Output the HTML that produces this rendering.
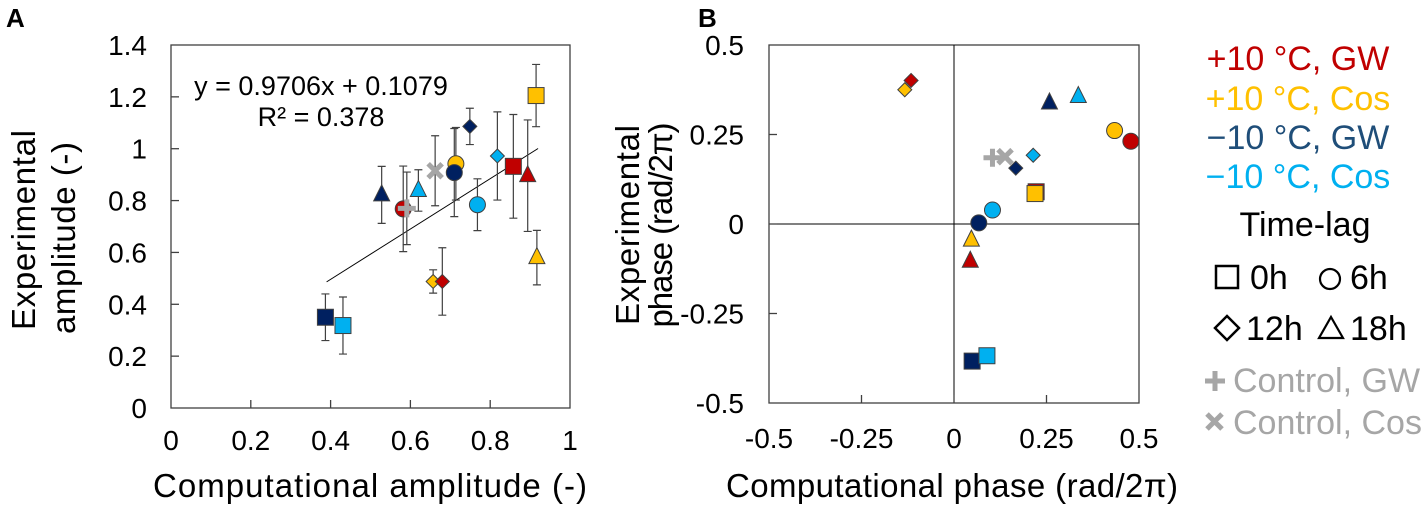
<!DOCTYPE html>
<html><head><meta charset="utf-8"><style>
html,body{margin:0;padding:0;background:#fff;}
svg{display:block;font-family:"Liberation Sans",Arial,sans-serif;}
</style></head><body>
<svg id="fig" width="1426" height="509" viewBox="0 0 1426 509" xmlns="http://www.w3.org/2000/svg">
<text x="6" y="27" font-size="26" font-weight="bold">A</text>
<text x="698" y="27" font-size="26" font-weight="bold">B</text>
<g id="chartA"></g>
<g id="chartB"></g>
<g id="legend">
<text x="1298" y="70" font-size="34" fill="#C00000" text-anchor="middle">+10 °C, GW</text>
<text x="1298" y="110" font-size="34" fill="#FFC000" text-anchor="middle">+10 °C, Cos</text>
<text x="1298" y="149" font-size="34" fill="#1F4E79" text-anchor="middle">−10 °C, GW</text>
<text x="1298" y="188" font-size="34" fill="#00B0F0" text-anchor="middle">−10 °C, Cos</text>
<text x="1305" y="236" font-size="34" fill="#000" text-anchor="middle">Time-lag</text>
<rect x="1216" y="266" width="22" height="22" fill="none" stroke="#000" stroke-width="2.5"/>
<text x="1250" y="289" font-size="34">0h</text>
<circle cx="1330" cy="279" r="10" fill="none" stroke="#000" stroke-width="2.2"/>
<text x="1350" y="289" font-size="34">6h</text>
<polygon points="1227,316 1239,328 1227,340 1215,328" fill="none" stroke="#000" stroke-width="2.5"/>
<text x="1246" y="340" font-size="34">12h</text>
<polygon points="1331,317 1343,338 1319,338" fill="none" stroke="#000" stroke-width="2.2"/>
<text x="1350" y="340" font-size="34">18h</text>
<path d="M1205,381 h20 M1215,371 v20" stroke="#A6A6A6" stroke-width="5"/>
<text x="1233" y="392" font-size="34" fill="#A6A6A6">Control, GW</text>
<path d="M1207,414 l15,15 M1222,414 l-15,15" stroke="#A6A6A6" stroke-width="5"/>
<text x="1233" y="434" font-size="34" fill="#A6A6A6">Control, Cos</text>
</g>
</svg>
<script>
// ---- Chart A data ----
const aX = [0.387,0.431,0.528,0.582,0.620,0.657,0.680,0.714,0.710,0.749,0.768,0.818,0.858,0.894,0.915,0.917];
const aY = [0.350,0.318,0.822,0.768,0.839,0.488,0.488,0.942,0.908,1.086,0.784,0.972,0.932,0.896,1.205,0.580];
const aErr = [0.09,0.11,0.11,0.165,0.08,0.045,0.13,0.14,0.17,0.07,0.10,0.17,0.20,0.215,0.12,0.105];
const aColor = ['navy','cyan','navy','red','cyan','yellow','red','yellow','navy','navy','cyan','cyan','red','red','yellow','yellow'];
const aShape = ['square','square','triangle','circle','triangle','diamond','diamond','circle','circle','diamond','circle','diamond','square','triangle','square','triangle'];
const aCtrlX = [0.591,0.662];
const aCtrlY = [0.770,0.915];
const aCtrlErr = [0.14,0.135];
const aCtrlShape = ['plus','cross'];
const aXTicks = [0,0.2,0.4,0.6,0.8,1];
const aYTicks = [0,0.2,0.4,0.6,0.8,1,1.2,1.4];
const aYTickLabels = ['0','0.2','0.4','0.6','0.8','1','1.2','1.4'];
const aXTickLabels = ['0','0.2','0.4','0.6','0.8','1'];
const trendSlope = 0.9706;
const trendIntercept = 0.1079;
const trendRange = [0.39,0.92];
// ---- Chart B data ----
const bX = [-0.116,-0.133,0.258,0.336,0.434,0.478,0.222,0.219,0.167,0.214,0.067,0.104,0.047,0.044,0.049,0.089];
const bY = [0.401,0.375,0.338,0.356,0.261,0.231,0.090,0.085,0.156,0.192,0.003,0.039,-0.045,-0.104,-0.383,-0.368];
const bColor = ['red','yellow','navy','cyan','yellow','red','red','yellow','navy','cyan','navy','cyan','yellow','red','navy','cyan'];
const bShape = ['diamond','diamond','triangle','triangle','circle','circle','square','square','diamond','diamond','circle','circle','triangle','triangle','square','square'];
const bCtrlX = [0.104,0.138];
const bCtrlY = [0.185,0.188];
const bCtrlShape = ['plus','cross'];
const bTicks = [-0.5,-0.25,0,0.25,0.5];
const bTickLabels = ['-0.5','-0.25','0','0.25','0.5'];

const COLORS = {red:'#C00000',yellow:'#FFC000',navy:'#002060',cyan:'#00B0F0'};
const NS='http://www.w3.org/2000/svg';
function mk(tag,attrs,parent){const e=document.createElementNS(NS,tag);for(const k in attrs)e.setAttribute(k,attrs[k]);parent.appendChild(e);return e;}

function marker(g,shape,cx,cy,color){
  const f=COLORS[color]; const st='#404040'; let e;
  if(shape==='square') e=mk('rect',{x:cx-8,y:cy-8,width:16,height:16,fill:f,stroke:st,'stroke-width':1},g);
  else if(shape==='circle') e=mk('circle',{cx:cx,cy:cy,r:8,fill:f,stroke:st,'stroke-width':1},g);
  else if(shape==='triangle') e=mk('polygon',{points:`${cx},${cy-10} ${cx+8},${cy+6} ${cx-8},${cy+6}`,fill:f,stroke:st,'stroke-width':1},g);
  else if(shape==='diamond') e=mk('polygon',{points:`${cx},${cy-7} ${cx+7},${cy} ${cx},${cy+7} ${cx-7},${cy}`,fill:f,stroke:st,'stroke-width':1},g);
  else if(shape==='plus') e=mk('path',{d:`M${cx-9},${cy} h18 M${cx},${cy-9} v18`,stroke:'#A6A6A6','stroke-width':5,fill:'none'},g);
  else e=mk('path',{d:`M${cx-7},${cy-7} l14,14 M${cx+7},${cy-7} l-14,14`,stroke:'#A6A6A6','stroke-width':5,fill:'none'},g);
  return e;
}

// ---- Chart A ----
(function(){
  const g=document.getElementById('chartA');
  const L=171,R=570,T=45,B=408;
  const sx=v=>L+(v-0)/(1-0)*(R-L);
  const sy=v=>B-(v-0)/(1.4-0)*(B-T);
  let e=mk('rect',{x:L,y:T,width:R-L,height:B-T,fill:'none',stroke:'#404040','stroke-width':1.3},g);
  
  
  aXTicks.forEach((t,i)=>{
    if(i>0&&i<aXTicks.length-1){const tk=mk('line',{x1:sx(t),x2:sx(t),y1:B,y2:B-8,stroke:'#404040','stroke-width':1.3},g);
    
    }
    const tx=mk('text',{x:sx(t),y:B+42,'font-size':28,'text-anchor':'middle'},g);tx.textContent=aXTickLabels[i];
    
    
  });
  aYTicks.forEach((t,i)=>{
    if(i>0&&i<aYTicks.length-1){const tk=mk('line',{x1:L,x2:L+8,y1:sy(t),y2:sy(t),stroke:'#404040','stroke-width':1.3},g);
    
    }
    const tx=mk('text',{x:147,y:sy(t)+10,'font-size':28,'text-anchor':'end'},g);tx.textContent=aYTickLabels[i];
    
    
  });
  let t1=mk('text',{x:370,y:497,'font-size':33,'text-anchor':'middle',textLength:434},g);t1.textContent='Computational amplitude (-)';
  
  
  let t2=mk('text',{x:0,y:0,'font-size':33,'text-anchor':'middle',transform:'translate(35,230) rotate(-90)',textLength:200},g);t2.textContent='Experimental';
  
  
  let t3=mk('text',{x:0,y:0,'font-size':33,'text-anchor':'middle',transform:'translate(75,238) rotate(-90)',textLength:192},g);t3.textContent='amplitude (-)';
  
  
  let tl=mk('line',{x1:sx(trendRange[0]),y1:sy(trendSlope*trendRange[0]+trendIntercept),x2:sx(trendRange[1]),y2:sy(trendSlope*trendRange[1]+trendIntercept),stroke:'#000','stroke-width':1},g);
  
  
  let eq=mk('text',{x:321,y:95,'font-size':27,'text-anchor':'middle'},g);eq.textContent='y = 0.9706x + 0.1079';
  
  
  let r2=mk('text',{x:321,y:126,'font-size':27,'text-anchor':'middle'},g);r2.textContent='R² = 0.378';
  
  
  function err(x,y,d){
    const p=mk('path',{d:`M${sx(x)},${sy(y-d)} V${sy(y+d)} M${sx(x)-4},${sy(y-d)} h8 M${sx(x)-4},${sy(y+d)} h8`,stroke:'#404040','stroke-width':1.2,fill:'none'},g);
    
    
  }
  aX.forEach((x,i)=>err(x,aY[i],aErr[i]));
  aCtrlX.forEach((x,i)=>err(x,aCtrlY[i],aCtrlErr[i]));
  aX.forEach((x,i)=>{
    const m=marker(g,aShape[i],sx(x),sy(aY[i]),aColor[i]);
    
    
  });
  aCtrlX.forEach((x,i)=>{
    const m=marker(g,aCtrlShape[i],sx(x),sy(aCtrlY[i]),null);
    
    
  });
})();

// ---- Chart B ----
(function(){
  const g=document.getElementById('chartB');
  const L=769,R=1139,T=45,B=403;
  const sx=v=>L+(v+0.5)/1*(R-L);
  const sy=v=>B-(v+0.5)/1*(B-T);
  let e=mk('rect',{x:L,y:T,width:R-L,height:B-T,fill:'none',stroke:'#404040','stroke-width':1.3},g);
  
  
  let ax=mk('line',{x1:L,x2:R,y1:sy(0),y2:sy(0),stroke:'#000','stroke-width':1},g);
  
  
  let ay=mk('line',{x1:sx(0),x2:sx(0),y1:T,y2:B,stroke:'#000','stroke-width':1},g);
  
  
  bTicks.forEach((t,i)=>{
    if(i>0&&i<bTicks.length-1){
      const tk=mk('line',{x1:sx(t),x2:sx(t),y1:B,y2:B-8,stroke:'#404040','stroke-width':1.3},g);
      
      
      const tk2=mk('line',{x1:L,x2:L+8,y1:sy(t),y2:sy(t),stroke:'#404040','stroke-width':1.3},g);
      
      
    }
    const tx=mk('text',{x:sx(t),y:B+45,'font-size':28,'text-anchor':'middle'},g);tx.textContent=bTickLabels[i];
    
    
    const ty=mk('text',{x:744,y:sy(t)+10,'font-size':28,'text-anchor':'end'},g);ty.textContent=bTickLabels[i];
    
    
  });
  let t1=mk('text',{x:952,y:497,'font-size':33,'text-anchor':'middle',textLength:452},g);t1.textContent='Computational phase (rad/2π)';
  
  
  let t2=mk('text',{x:0,y:0,'font-size':33,'text-anchor':'middle',transform:'translate(639,225) rotate(-90)',textLength:200},g);t2.textContent='Experimental';
  
  
  let t3=mk('text',{x:0,y:0,'font-size':33,'text-anchor':'middle',transform:'translate(672,225) rotate(-90)',textLength:205},g);t3.textContent='phase (rad/2π)';
  
  
  bX.forEach((x,i)=>{
    const m=marker(g,bShape[i],sx(x),sy(bY[i]),bColor[i]);
    
    
  });
  bCtrlX.forEach((x,i)=>{
    const m=marker(g,bCtrlShape[i],sx(x),sy(bCtrlY[i]),null);
    
    
  });
})();
</script>
</body></html>
